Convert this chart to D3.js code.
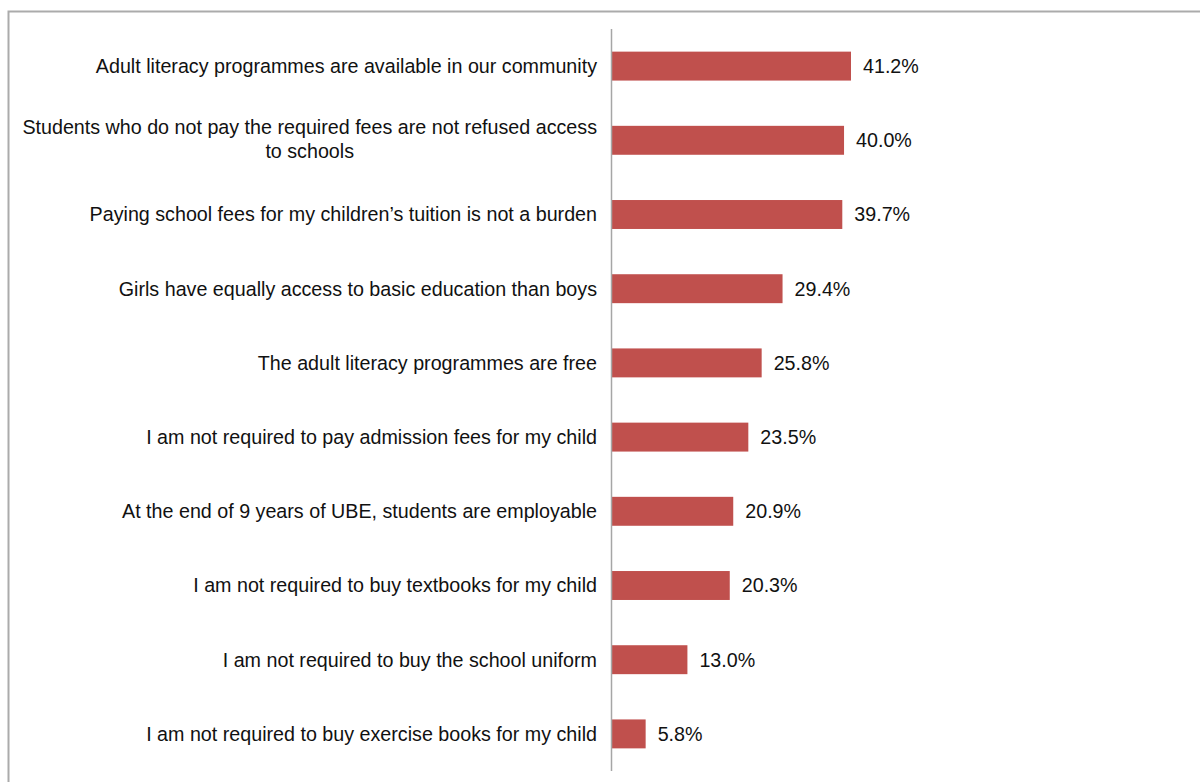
<!DOCTYPE html>
<html>
<head>
<meta charset="utf-8">
<script src="https://cdn.jsdelivr.net/npm/d3@7"></script>
<style>
  html, body { margin: 0; padding: 0; background: #fff; }
  svg { display: block; font-family: "Liberation Sans", Arial, sans-serif; }
</style>
</head>
<body>
<svg id="chart" width="1200" height="782"></svg>
<script>
// Statements about access to basic education, share of respondents agreeing
const statements = [
  ["Adult literacy programmes are available in our community"],
  ["Students who do not pay the required fees are not refused access", "to schools"],
  ["Paying school fees for my children\u2019s tuition is not a burden"],
  ["Girls have equally access to basic education than boys"],
  ["The adult literacy programmes are free"],
  ["I am not required to pay admission fees for my child"],
  ["At the end of 9 years of UBE, students are employable"],
  ["I am not required to buy textbooks for my child"],
  ["I am not required to buy the school uniform"],
  ["I am not required to buy exercise books for my child"]
];
const shares = [41.2, 40.0, 39.7, 29.4, 25.8, 23.5, 20.9, 20.3, 13.0, 5.8];

const svg = d3.select("#chart");
const W = 1200, H = 782;

// outer frame
svg.append("rect")
  .attr("x", 8.5).attr("y", 11.5)
  .attr("width", W).attr("height", H)
  .attr("fill", "none")
  .attr("stroke", "#ababab")
  .attr("stroke-width", 2);

const x0 = 612;
const x = d3.scaleLinear().domain([0, 41.2]).range([x0, 851]);
const y = d3.scaleBand()
  .domain(d3.range(shares.length))
  .range([29, 771])
  .paddingInner(0.61)
  .paddingOuter(0.305);

// bars
svg.append("g").selectAll("rect")
  .data(shares)
  .join("rect")
  .attr("x", x(0))
  .attr("y", (d, i) => y(i))
  .attr("width", d => x(d) - x(0))
  .attr("height", y.bandwidth())
  .attr("fill", "#c0504d");

// category axis line
svg.append("line")
  .attr("x1", x0 - 0.5).attr("x2", x0 - 0.5)
  .attr("y1", 29).attr("y2", 771)
  .attr("stroke", "#a6a6a6")
  .attr("stroke-width", 1.5);

// category labels (right-aligned, extra lines centred under the first)
const fs = 19.7;
const lineH = 23.4;
const lab = svg.append("g")
  .attr("font-size", fs)
  .attr("fill", "#111");
statements.forEach((lines, i) => {
  const cy = y(i) + y.bandwidth() / 2 - (lines.length > 1 ? 1 : 0);
  const top = cy - (lines.length - 1) * lineH / 2;
  const g = lab.append("g");
  const t1 = g.append("text")
    .attr("x", 597)
    .attr("y", top)
    .attr("dy", "0.35em")
    .attr("text-anchor", "end")
    .text(lines[0]);
  if (lines.length > 1) {
    const w = t1.node().getComputedTextLength();
    lines.slice(1).forEach((ln, k) => {
      g.append("text")
        .attr("x", 597 - w / 2)
        .attr("y", top + (k + 1) * lineH)
        .attr("dy", "0.35em")
        .attr("text-anchor", "middle")
        .text(ln);
    });
  }
});

// value labels
svg.append("g")
  .attr("font-size", fs)
  .attr("fill", "#111")
  .selectAll("text")
  .data(shares)
  .join("text")
  .attr("x", d => x(d) + 12)
  .attr("y", (d, i) => y(i) + y.bandwidth() / 2)
  .attr("dy", "0.35em")
  .text(d => d.toFixed(1) + "%");
</script>
</body>
</html>
